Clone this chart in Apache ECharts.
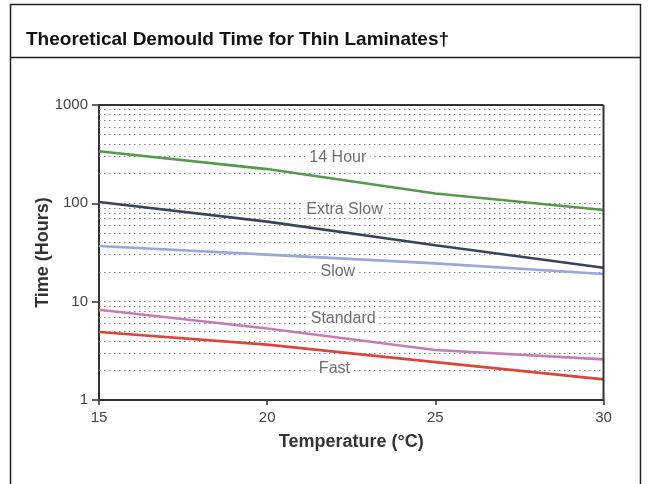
<!DOCTYPE html>
<html>
<head>
<meta charset="utf-8">
<script src="https://cdn.jsdelivr.net/npm/echarts@6/dist/echarts.min.js"></script>
<style>
html,body{margin:0;padding:0;background:#fff;}
#chart{width:651px;height:484px;}
</style>
</head>
<body>
<div id="chart"></div>
<script>
// ---- data ----
var temperatures = [15, 20, 25, 30];
var seriesNames = ['14 Hour', 'Extra Slow', 'Slow', 'Standard', 'Fast'];
var hour14 = [338, 223, 126, 85.5];
var extraSlow = [103, 65.2, 37.4, 22.1];
var slow = [36.8, 30.1, 24.5, 19.1];
var standard = [8.28, 5.33, 3.22, 2.59];
var fast = [4.91, 3.66, 2.43, 1.62];
var yTicks = [1, 10, 100, 1000];
var xTicks = [15, 20, 25, 30];
// label anchor points (data space) for the in-chart series names
var labelTemps = [22.1, 22.3, 22.1, 22.26, 22.0];
var labelValues = [289, 85.5, 20, 6.67, 2.11];
var colors = ['#55994f', '#39435a', '#9ca6d9', '#c47cb9', '#d9473c'];

var allSeries = [hour14, extraSlow, slow, standard, fast];

// minor grid values 2..9 x 10^k
var gridValues = [];
[1, 10, 100].forEach(function (d) {
  for (var m = 1; m <= 9; m++) { if (d * m > 1) gridValues.push(d * m); }
});

var chart = echarts.init(document.getElementById('chart'), null, {renderer: 'canvas'});
var fontFam = 'Liberation Sans, Arial, Helvetica, sans-serif';

var series = allSeries.map(function (vals, i) {
  return {
    name: seriesNames[i],
    type: 'line',
    data: vals.map(function (v, j) { return [temperatures[j], v]; }),
    symbol: 'none',
    smooth: false,
    lineStyle: {color: colors[i], width: 2.6},
    z: 5,
    silent: true
  };
});

// grid lines as markLine on a helper series
series.push({
  type: 'line',
  data: [],
  silent: true,
  markLine: {
    silent: true,
    symbol: 'none',
    label: {show: false},
    lineStyle: {color: '#808080', type: [1.5, 3.5], width: 1.2},
    data: gridValues.map(function (v) { return {yAxis: v}; }),
    animation: false
  }
});

// in-chart series labels
series.push({
  type: 'scatter',
  silent: true,
  symbolSize: 1,
  itemStyle: {color: 'rgba(0,0,0,0)'},
  z: 10,
  data: seriesNames.map(function (n, i) { return {name: n, value: [labelTemps[i], labelValues[i]]}; }),
  label: {
    show: true,
    position: 'inside',
    formatter: '{b}',
    color: '#4a4a4a',
    fontSize: 16,
    fontFamily: fontFam,
    backgroundColor: '#fff',
    padding: [0, 4]
  }
});

chart.setOption({
  animation: false,
  backgroundColor: '#fff',
  title: {
    text: 'Theoretical Demould Time for Thin Laminates\u2020',
    left: 21, top: 25,
    textStyle: {fontSize: 19, fontWeight: 'bold', color: '#111', fontFamily: fontFam}
  },
  grid: {left: 99, right: 47.5, top: 105, bottom: 84, containLabel: false},
  xAxis: {
    type: 'value', min: 15, max: 30, interval: 5,
    name: 'Temperature (\u00B0C)', nameLocation: 'middle', nameGap: 33,
    nameMoveOverlap: false,
    nameTextStyle: {fontSize: 18, fontWeight: 'bold', color: '#333', fontFamily: fontFam},
    axisLine: {show: true, lineStyle: {color: '#333', width: 2}},
    axisTick: {show: true, length: 5, lineStyle: {color: '#333', width: 1.5}},
    axisLabel: {fontSize: 15, color: '#444', margin: 10, fontFamily: fontFam},
    splitLine: {show: false}
  },
  yAxis: {
    type: 'log', logBase: 10, min: 1, max: 1000,
    name: 'Time (Hours)', nameLocation: 'middle', nameGap: 47,
    nameMoveOverlap: false,
    nameTextStyle: {fontSize: 18, fontWeight: 'bold', color: '#333', fontFamily: fontFam},
    axisLine: {show: true, lineStyle: {color: '#333', width: 2}},
    axisTick: {show: true, length: 7, lineStyle: {color: '#333', width: 1.5}},
    axisLabel: {fontSize: 15, color: '#444', margin: 11, fontFamily: fontFam,
      formatter: function (v) { return String(Math.round(v)); }},
    splitLine: {show: false},
    minorTick: {show: false},
    minorSplitLine: {show: false}
  },
  graphic: [
    {type: 'rect', shape: {x: 10.5, y: 4.5, width: 630, height: 490}, style: {fill: null, stroke: '#222', lineWidth: 1.5}, silent: true, z: 100},
    {type: 'line', shape: {x1: 10.5, y1: 57.5, x2: 640.5, y2: 57.5}, style: {stroke: '#222', lineWidth: 1.5}, silent: true, z: 100},
    {type: 'line', shape: {x1: 99, y1: 105, x2: 603.5, y2: 105}, style: {stroke: '#333', lineWidth: 2}, silent: true, z: 100},
    {type: 'line', shape: {x1: 603.5, y1: 105, x2: 603.5, y2: 400}, style: {stroke: '#333', lineWidth: 2}, silent: true, z: 100}
  ],
  series: series
});
</script>
</body>
</html>
